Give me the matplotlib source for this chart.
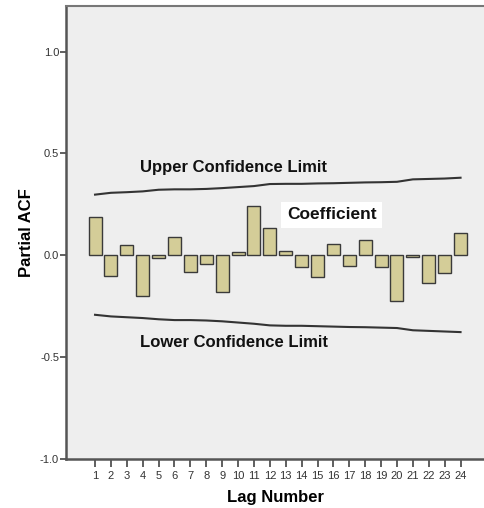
import matplotlib
matplotlib.use("Agg")
import numpy as np
import matplotlib.pyplot as plt

plt.rcParams['font.family'] = ['Liberation Sans', 'DejaVu Sans']

# lag numbers and partial autocorrelation coefficients
lags = list(range(1, 25))
pacf = [0.19, -0.10, 0.05, -0.20, -0.013, 0.09, -0.08, -0.045, -0.18, 0.015,
        0.24, 0.135, 0.02, -0.055, -0.105, 0.055, -0.05, 0.075, -0.055, -0.225,
        -0.008, -0.135, -0.085, 0.11]

# confidence limits per lag
upper_limit = [0.298, 0.307, 0.310, 0.314, 0.322, 0.324, 0.324, 0.326, 0.330, 0.335,
               0.340, 0.350, 0.351, 0.351, 0.353, 0.354, 0.356, 0.358, 0.359, 0.361,
               0.373, 0.375, 0.377, 0.381]
lower_limit = [-0.292, -0.300, -0.304, -0.308, -0.314, -0.318, -0.318, -0.320, -0.324, -0.330,
               -0.336, -0.344, -0.346, -0.346, -0.348, -0.350, -0.352, -0.353, -0.355, -0.357,
               -0.368, -0.371, -0.374, -0.377]

yticks = [-1.0, -0.5, 0.0, 0.5, 1.0]

fig = plt.figure(figsize=(4.85, 5.08), dpi=100)
ax = fig.add_axes([0.136, 0.0965, 0.866, 0.892])
ax.set_facecolor('#eeeeee')

ax.bar(lags, pacf, width=0.82, color='#d4cd98', edgecolor='#3a3a3a', linewidth=1.0, zorder=3)
ax.plot(lags, upper_limit, color='#333333', linewidth=1.5, zorder=2)
ax.plot(lags, lower_limit, color='#333333', linewidth=1.5, zorder=2)

ax.text(3.85, 0.43, 'Upper Confidence Limit', fontsize=12, fontweight='bold',
        va='center', ha='left', color='#111111')
ax.text(3.85, -0.428, 'Lower Confidence Limit', fontsize=12, fontweight='bold',
        va='center', ha='left', color='#111111')
ax.text(15.9, 0.20, 'Coefficient', fontsize=12.5, fontweight='bold', va='center', ha='center',
        color='#111111', bbox=dict(facecolor='white', edgecolor='none', pad=4))

ax.set_xlim(-0.83, 25.6)
ax.set_ylim(-1.0, 1.225)
ax.set_xticks(lags)
ax.set_xticklabels([str(l) for l in lags], fontsize=8, color='#333333')
ax.set_yticks(yticks)
ax.set_yticklabels([f'{v:.1f}' for v in yticks], fontsize=8, color='#333333')
ax.tick_params(axis='x', direction='out', length=6, width=1.2, color='#444444', pad=3)
ax.tick_params(axis='y', direction='out', length=4, width=1.2, color='#444444', pad=1)

for side in ['left', 'bottom']:
    ax.spines[side].set_color('#555555')
    ax.spines[side].set_linewidth(1.8)
ax.spines['top'].set_color('#777777')
ax.spines['top'].set_linewidth(1.5)
ax.spines['right'].set_visible(False)

ax.set_xlabel('Lag Number', fontsize=12, fontweight='bold', labelpad=6)
ax.set_ylabel('Partial ACF', fontsize=12, fontweight='bold', labelpad=4)

fig.savefig('out.png', dpi=100, facecolor='white')
